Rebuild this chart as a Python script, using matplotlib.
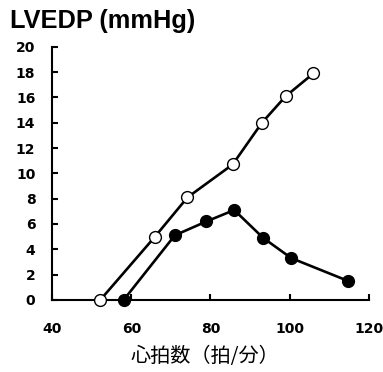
import matplotlib

matplotlib.use("Agg")
import matplotlib.pyplot as plt

# heart rate (beats/min) vs LVEDP (mmHg)
open_hr = [52.2, 66.0, 74.2, 85.6, 93.0, 99.0, 106.0]
open_lvedp = [0.0, 5.0, 8.1, 10.7, 14.0, 16.1, 17.9]
filled_hr = [58.1, 71.0, 79.0, 86.0, 93.3, 100.4, 114.7]
filled_lvedp = [0.0, 5.1, 6.2, 7.1, 4.9, 3.3, 1.5]

x_ticks = [40, 60, 80, 100, 120]
y_ticks = list(range(0, 21, 2))

fig = plt.figure(figsize=(3.83, 3.72), dpi=100)
ax = fig.add_axes([0.136, 0.194, 0.827, 0.68])

ax.plot(filled_hr, filled_lvedp, color="black", linewidth=1.9, marker="o",
        markersize=8.5, markerfacecolor="black", markeredgecolor="black",
        clip_on=False, zorder=3)
ax.plot(open_hr, open_lvedp, color="black", linewidth=1.9, marker="o",
        markersize=8.5, markerfacecolor="white", markeredgecolor="black",
        markeredgewidth=1.0, clip_on=False, zorder=4)

ax.set_xlim(40, 120)
ax.set_ylim(0, 20)
ax.set_xticks(x_ticks)
ax.set_yticks(y_ticks)
for side in ("top", "right"):
    ax.spines[side].set_visible(False)
for side in ("left", "bottom"):
    ax.spines[side].set_linewidth(1.5)

ax.tick_params(axis="both", direction="in", length=4.5, width=1.5,
               labelsize=10)
ax.tick_params(axis="y", pad=12)
ax.tick_params(axis="x", pad=16)
for lab in ax.get_xticklabels() + ax.get_yticklabels():
    lab.set_fontweight("bold")
    lab.set_fontfamily("DejaVu Sans")

fig.text(0.026, 0.975, "LVEDP (mmHg)", fontsize=18.3, fontweight="bold",
         family="Liberation Sans", ha="left", va="top")
fig.text(0.535, 0.043, "心拍数（拍/分）", fontsize=14.5,
         family=["Noto Sans CJK JP", "DejaVu Sans"], ha="center", va="center")

fig.savefig("out.png", dpi=100)
